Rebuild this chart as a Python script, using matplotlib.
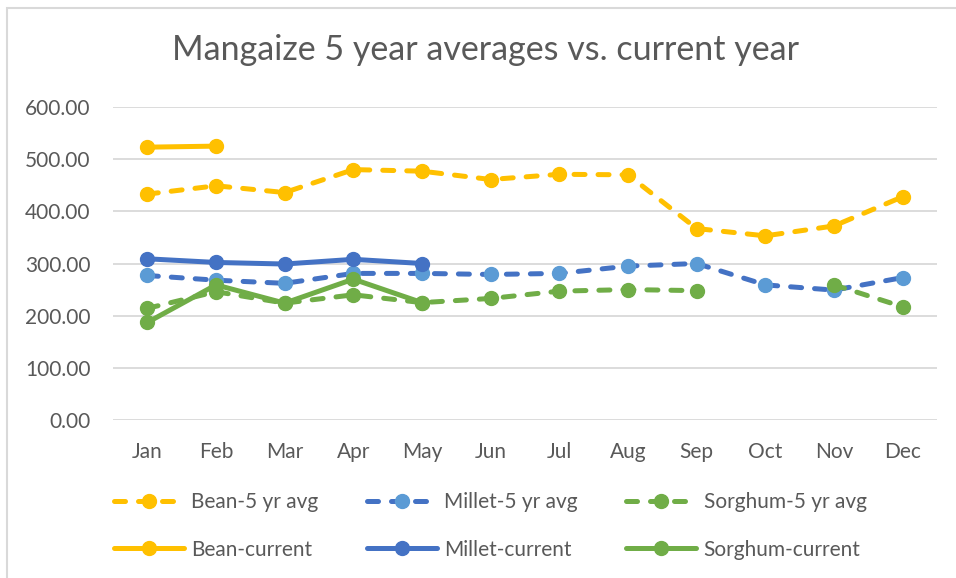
import numpy as np
import matplotlib.pyplot as plt
from matplotlib.patches import Rectangle

plt.rcParams['font.family'] = ['Lato', 'DejaVu Sans']

months = ["Jan", "Feb", "Mar", "Apr", "May", "Jun",
          "Jul", "Aug", "Sep", "Oct", "Nov", "Dec"]

bean_avg = [433, 449, 436, 480, 477, 461, 471, 470, 367, 353, 372, 428]
millet_avg = [277, 268, 262, 281, 281, 279, 281, 295, 300, 259, 249, 273]
sorghum_avg = [214, 246, 224, 240, 225, 233, 247, 250, 248, np.nan, 259, 217]

bean_cur = [523, 525, np.nan, np.nan, np.nan, np.nan,
            np.nan, np.nan, np.nan, np.nan, np.nan, np.nan]
millet_cur = [309, 302, 299, 308, 300, np.nan,
              np.nan, np.nan, np.nan, np.nan, np.nan, np.nan]
sorghum_cur = [187, 259, 224, 270, 225, np.nan,
               np.nan, np.nan, np.nan, np.nan, np.nan, np.nan]

yticks = [0, 100, 200, 300, 400, 500, 600]

YELLOW = "#FFC000"
BLUE = "#4472C4"
LBLUE = "#5B9BD5"
GREEN = "#70AD47"
TXT = "#595959"

fig = plt.figure(figsize=(9.56, 5.78), dpi=100)
ax = fig.add_axes([113 / 956, 1 - 420 / 578, (937 - 113) / 956, (420 - 107) / 578])

x = np.arange(len(months))
lw = 3.6
ms = 10
dash = (2.2, 2.6)

series = [
    (bean_avg, YELLOW, YELLOW, "--", "Bean-5 yr avg"),
    (millet_avg, BLUE, LBLUE, "--", "Millet-5 yr avg"),
    (sorghum_avg, GREEN, GREEN, "--", "Sorghum-5 yr avg"),
    (bean_cur, YELLOW, YELLOW, "-", "Bean-current"),
    (millet_cur, BLUE, BLUE, "-", "Millet-current"),
    (sorghum_cur, GREEN, GREEN, "-", "Sorghum-current"),
]

handles = {}
for vals, lc, mc, ls, label in series:
    if ls == "--":
        line, = ax.plot(x, vals, color=lc, lw=lw, marker="o", ms=ms,
                        mfc=mc, mec=mc, dashes=dash, dash_capstyle="round",
                        label=label)
    else:
        line, = ax.plot(x, vals, color=lc, lw=lw, marker="o", ms=ms,
                        mfc=mc, mec=mc, solid_capstyle="round", label=label)
    handles[label] = line

ax.set_xlim(-0.5, 11.5)
ax.set_ylim(0, 600)
ax.set_yticks(yticks)
ax.set_yticklabels([f"{v:.2f}" for v in yticks])
ax.set_xticks(x)
ax.set_xticklabels(months)
ax.grid(axis="y", color="#D9D9D9", lw=1.3)
ax.set_axisbelow(True)
for s in ax.spines.values():
    s.set_visible(False)
ax.tick_params(length=0, labelsize=15, colors=TXT)
ax.tick_params(axis="x", pad=16)
ax.tick_params(axis="y", pad=16)

fig.text(486 / 956, 1 - 50 / 578, "Mangaize 5 year averages vs. current year",
         ha="center", va="center", fontsize=24.5, color=TXT)

order = ["Bean-5 yr avg", "Bean-current", "Millet-5 yr avg", "Millet-current",
         "Sorghum-5 yr avg", "Sorghum-current"]
leg = fig.legend([handles[k] for k in order], order, ncol=3,
                 loc="center left", bbox_to_anchor=(95 / 956, 1 - 526 / 578),
                 frameon=False, fontsize=15, handlelength=3.36, handletextpad=0.37,
                 columnspacing=2.3, labelspacing=1.3, labelcolor=TXT)

fig.patches.append(Rectangle((7 / 956, -0.1), 1.2, (1 - 8 / 578) + 0.1,
                             transform=fig.transFigure, fill=False,
                             edgecolor="#D9D9D9", lw=1.5))

fig.savefig("out.png", dpi=100)
